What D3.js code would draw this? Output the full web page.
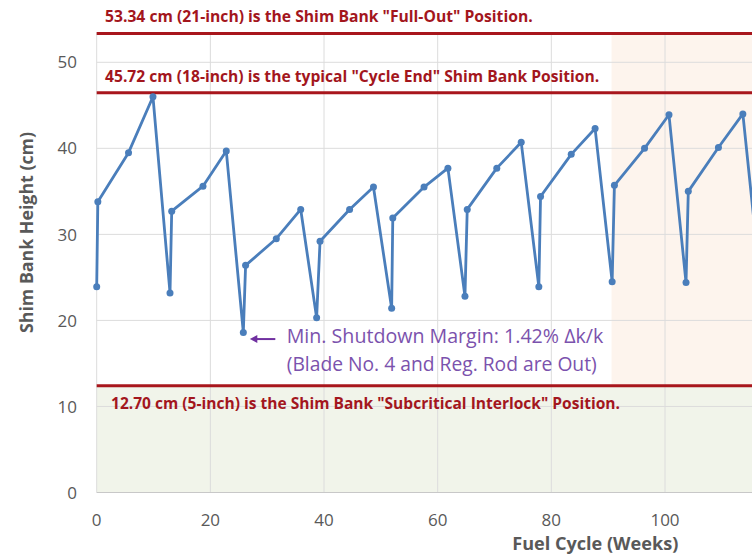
<!DOCTYPE html>
<html>
<head>
<meta charset="utf-8">
<script src="https://cdn.jsdelivr.net/npm/d3@7/dist/d3.min.js"></script>
<style>
  html, body { margin: 0; padding: 0; background: #ffffff; }
  svg { display: block; }
</style>
</head>
<body>
<svg id="chart" width="752" height="556"></svg>
<script>
// ---- data ----
const weeks = [0, 0.2, 5.6, 9.9, 12.9, 13.2, 18.7, 22.8, 25.8, 26.2, 31.6, 35.9, 38.7, 39.3,
  44.5, 48.7, 51.9, 52.1, 57.6, 61.8, 64.8, 65.2, 70.4, 74.7, 77.8, 78.1, 83.5, 87.7,
  90.7, 91.1, 96.4, 100.7, 103.7, 104.1, 109.4, 113.7, 116.8];
const heights = [23.9, 33.8, 39.5, 46.0, 23.2, 32.7, 35.6, 39.7, 18.6, 26.4, 29.5, 32.9, 20.3, 29.2,
  32.9, 35.5, 21.4, 31.9, 35.5, 37.7, 22.8, 32.9, 37.7, 40.7, 23.9, 34.4, 39.3, 42.3,
  24.5, 35.7, 40.0, 43.9, 24.4, 35.0, 40.1, 44.0, 24.3];
const xTicks = [0, 20, 40, 60, 80, 100];
const yTicks = [0, 10, 20, 30, 40, 50];
const guideValues = [53.34, 46.45, 12.4];
const guideLabels = [
  '53.34 cm (21-inch) is the Shim Bank "Full-Out" Position.',
  '45.72 cm (18-inch) is the typical "Cycle End" Shim Bank Position.',
  '12.70 cm (5-inch) is the Shim Bank "Subcritical Interlock" Position.'
];
const shadeStartWeek = 90.6;
const minPoint = { week: 25.8, height: 18.6 };
const noteLines = ['Min. Shutdown Margin: 1.42% \u0394k/k', '(Blade No. 4 and Reg. Rod are Out)'];
const xTitle = 'Fuel Cycle (Weeks)';
const yTitle = 'Shim Bank Height (cm)';

// ---- layout ----
const svg = d3.select('#chart');
const left = 96.7, bottom = 492.5;
const x = d3.scaleLinear().domain([0, 120]).range([left, left + 5.683 * 120]);
const y = d3.scaleLinear().domain([0, 53.5]).range([bottom, bottom - 8.604 * 53.5]);
const xMax = 120;
const font = "'Open Sans', 'DejaVu Sans', sans-serif";

// shaded regions
svg.append('rect')
  .attr('x', x(shadeStartWeek)).attr('y', y(guideValues[0]))
  .attr('width', x(xMax) - x(shadeStartWeek))
  .attr('height', y(guideValues[2]) - y(guideValues[0]))
  .attr('fill', '#fdf4ed');
svg.append('rect')
  .attr('x', x(0)).attr('y', y(guideValues[2]))
  .attr('width', x(xMax) - x(0))
  .attr('height', y(0) - y(guideValues[2]))
  .attr('fill', '#f1f4ea');

// gridlines
const grid = svg.append('g');
grid.selectAll('line.h').data(yTicks.filter(d => d > 0)).join('line')
  .attr('x1', x(0)).attr('x2', x(xMax))
  .attr('y1', d => y(d)).attr('y2', d => y(d))
  .attr('stroke', '#dcdcdc').attr('stroke-width', 1);
grid.selectAll('line.v').data(xTicks).join('line')
  .attr('x1', d => x(d)).attr('x2', d => x(d))
  .attr('y1', y(0)).attr('y2', y(53.5))
  .attr('stroke', '#dcdcdc').attr('stroke-width', 1);
// bottom axis line
svg.append('line')
  .attr('x1', x(0)).attr('x2', x(xMax)).attr('y1', y(0)).attr('y2', y(0))
  .attr('stroke', '#c8c8c8').attr('stroke-width', 1.2);

// tick labels
svg.append('g').selectAll('text').data(yTicks).join('text')
  .attr('x', 77).attr('y', d => y(d)).attr('dy', '0.36em')
  .attr('text-anchor', 'end')
  .attr('font-family', font).attr('font-size', 17).attr('fill', '#595959')
  .text(d => d);
svg.append('g').selectAll('text').data(xTicks).join('text')
  .attr('x', d => x(d)).attr('y', 526)
  .attr('text-anchor', 'middle')
  .attr('font-family', font).attr('font-size', 17).attr('fill', '#595959')
  .text(d => d);

// axis titles
svg.append('text')
  .attr('transform', 'translate(33,232.5) rotate(-90)')
  .attr('text-anchor', 'middle')
  .attr('font-family', font).attr('font-size', 17).attr('font-weight', 'bold')
  .attr('fill', '#595959')
  .attr('textLength', 201).attr('lengthAdjust', 'spacingAndGlyphs')
  .text(yTitle);
svg.append('text')
  .attr('x', 512.3).attr('y', 550)
  .attr('font-family', font).attr('font-size', 18).attr('font-weight', 'bold')
  .attr('fill', '#595959')
  .attr('textLength', 166).attr('lengthAdjust', 'spacingAndGlyphs')
  .text(xTitle);

// guide lines
svg.append('g').selectAll('line').data(guideValues).join('line')
  .attr('x1', x(0)).attr('x2', x(xMax))
  .attr('y1', d => y(d)).attr('y2', d => y(d))
  .attr('stroke', '#a8161c').attr('stroke-width', 3);

// guide labels
const labelPos = [
  { x: 105, dy: -11.8, len: 427.7 },
  { x: 105, dy: -11.2, len: 494.3 },
  { x: 111, dy: 23.5, len: 509 }
];
svg.append('g').selectAll('text').data(guideLabels).join('text')
  .attr('x', (d, i) => labelPos[i].x)
  .attr('y', (d, i) => y(guideValues[i]) + labelPos[i].dy)
  .attr('font-family', font).attr('font-size', 15.5).attr('font-weight', 'bold')
  .attr('fill', '#a3161d')
  .attr('textLength', (d, i) => labelPos[i].len).attr('lengthAdjust', 'spacingAndGlyphs')
  .text(d => d);

// data line + markers
const pts = weeks.map((w, i) => [w, heights[i]]);
svg.append('path')
  .datum(pts)
  .attr('fill', 'none')
  .attr('stroke', '#4a7ebb').attr('stroke-width', 2.8)
  .attr('stroke-linejoin', 'round')
  .attr('d', d3.line().x(d => x(d[0])).y(d => y(d[1])));
svg.append('g').selectAll('circle').data(pts).join('circle')
  .attr('cx', d => x(d[0])).attr('cy', d => y(d[1])).attr('r', 3.5)
  .attr('fill', '#4a7ebb');

// annotation
const ax = x(minPoint.week), ay = y(minPoint.height) + 6.6;
svg.append('line')
  .attr('x1', ax + 12).attr('x2', ax + 32).attr('y1', ay).attr('y2', ay)
  .attr('stroke', '#7030a0').attr('stroke-width', 2);
svg.append('path')
  .attr('d', `M${ax + 6.5},${ay} L${ax + 14},${ay - 4} L${ax + 14},${ay + 4} Z`)
  .attr('fill', '#7030a0');
const noteLen = [316.6, 310];
svg.append('g').selectAll('text').data(noteLines).join('text')
  .attr('x', ax + 43.4)
  .attr('y', (d, i) => ay + 3.7 + i * 28.7)
  .attr('font-family', font).attr('font-size', 20)
  .attr('fill', '#7b52ad')
  .attr('textLength', (d, i) => noteLen[i]).attr('lengthAdjust', 'spacingAndGlyphs')
  .text(d => d);
</script>
</body>
</html>
